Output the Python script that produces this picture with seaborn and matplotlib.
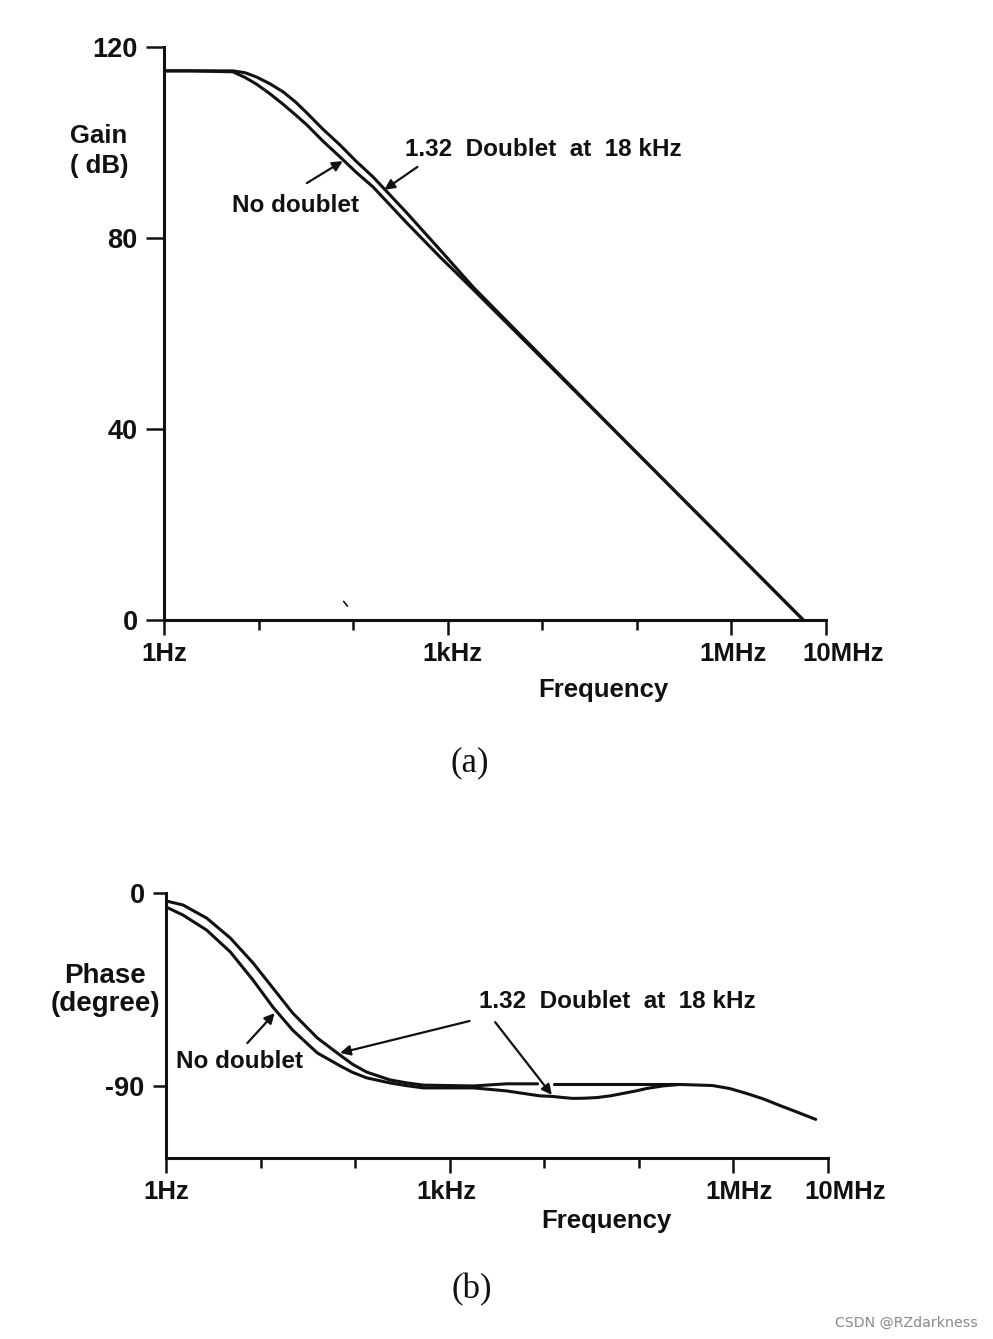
import numpy as np
import pandas as pd
import seaborn as sns
import matplotlib.pyplot as plt
from matplotlib.transforms import ScaledTranslation

# gain plot, x values are decades above 1 Hz
gain_log_f = [0, 0.3, 0.73, 0.86, 0.98, 1.12, 1.26, 1.39, 1.51, 1.68, 1.86, 2.03, 2.21,
              2.57, 2.92, 3.27, 5.0, 6.76]
gain_doublet = [115, 115, 115, 114.6, 113.7, 112.3, 110.6, 108.5, 106.2, 102.8, 99.5, 96.1, 92.8,
                85.2, 77.5, 69.7, 35.0, 0]
gain_no_doublet = [115, 115, 114.8, 113.6, 112.2, 110.2, 108.0, 105.8, 103.7, 100.3, 97.0, 93.8, 90.7,
                   83.1, 76.0, 69.2, 35.0, 0]

# phase plot
phase_log_f = [0, 0.18, 0.43, 0.68, 0.92, 1.13, 1.34, 1.6, 1.84, 1.97, 2.12, 2.37, 2.55, 2.72, 3.25,
               3.6, 3.95, 4.09, 4.2, 4.3, 4.43, 4.56, 4.7, 4.83, 4.96, 5.08, 5.25, 5.43, 5.78,
               5.96, 6.14, 6.32, 6.49, 6.68, 6.87]
phase_no_doublet = [-6.5, -10.3, -17.3, -27.5, -40.6, -53.2, -64, -74.6, -80.6, -83.6, -86.2, -88.6,
                    -89.9, -90.9, -90.9, -92.3, -94.6, -94.9, -95.4, -95.8, -95.7, -95.4, -94.6,
                    -93.5, -92.4, -91.2, -90, -89.3, -89.8, -91.2, -93.5, -96.1, -99.1, -102.3, -105.6]
phase_doublet_a_f = [0, 0.18, 0.43, 0.68, 0.92, 1.13, 1.34, 1.6, 1.84, 1.97, 2.12, 2.37, 2.55, 2.72,
                     3.25, 3.6, 3.93]
phase_doublet_a = [-3.7, -5.6, -11.7, -21, -32.6, -44.3, -56, -67.6, -75.6, -79.8, -83.5, -87.2,
                   -88.6, -89.6, -90, -89, -89]
phase_doublet_b_f = [4.1, 4.56, 5.08, 5.43]
phase_doublet_b = [-89.3, -89.3, -89.3, -89.3]

x_ticks = [1, 10, 100, 1e3, 1e4, 1e5, 1e6, 1e7]
x_labels = ["1Hz", "", "", "1kHz", "", "", "1MHz", "10MHz"]
gain_ticks = [0, 40, 80, 120]
phase_ticks = [-90, 0]
phase_tick_labels = ["-90", "0"]

W, H = 993, 1339
FONT = ["Liberation Sans", "DejaVu Sans"]
INK = "#111111"

sns.set_theme(style="ticks")
plt.rcParams["font.family"] = FONT
plt.rcParams["font.weight"] = "bold"

fig = plt.figure(figsize=(W / 100, H / 100), dpi=100, facecolor="white")
ax1 = fig.add_axes([164 / W, 1 - 620 / H, 662 / W, 573 / H])
ax2 = fig.add_axes([166 / W, 1 - 1158 / H, 662 / W, 265 / H])


def curve(ax, log_f, vals):
    df = pd.DataFrame({"f": 10 ** np.array(log_f, dtype=float), "v": vals})
    sns.lineplot(data=df, x="f", y="v", ax=ax, color=INK, lw=2.2, estimator=None, errorbar=None)


curve(ax1, gain_log_f, gain_doublet)
curve(ax1, gain_log_f, gain_no_doublet)
curve(ax2, phase_log_f, phase_no_doublet)
curve(ax2, phase_doublet_a_f, phase_doublet_a)
curve(ax2, phase_doublet_b_f, phase_doublet_b)


def arrow(ax, tip, tail):
    ax.annotate("", xy=(10 ** tip[0], tip[1]), xytext=(10 ** tail[0], tail[1]),
                arrowprops=dict(arrowstyle="-|>", color=INK, lw=1.6, mutation_scale=15, shrinkA=0, shrinkB=0))


arrow(ax1, (1.89, 96.1), (1.51, 91.5))
arrow(ax1, (2.33, 90.1), (2.68, 94.9))
arrow(ax2, (1.15, -56), (0.86, -70))
arrow(ax2, (1.84, -74.6), (3.21, -59.7))
arrow(ax2, (4.08, -94.2), (3.48, -60.2))

# the little speck under the top curve
ax1.plot([10 ** 1.9, 10 ** 1.94], [3.9, 2.9], color=INK, lw=1.2)

for ax, ylim, yt, ylen in [(ax1, (0, 120), gain_ticks, 13), (ax2, (-123.6, 0), phase_ticks, 9.4)]:
    ax.set_xscale("log")
    ax.set_xlim(1, 1e7)
    ax.set_ylim(*ylim)
    ax.set_xticks(x_ticks)
    ax.set_xticklabels(x_labels)
    ax.minorticks_off()
    ax.set_yticks(yt)
    ax.set_xlabel("")
    ax.set_ylabel("")
    ax.tick_params(axis="x", length=10.8, width=1.8, pad=5, labelsize=18.5, color=INK, labelcolor=INK)
    ax.tick_params(axis="y", length=ylen, width=1.8, pad=6, labelsize=19.5, color=INK, labelcolor=INK)
    sns.despine(ax=ax)
    ax.spines["left"].set_linewidth(2.2)
    ax.spines["bottom"].set_linewidth(2.2)
    ax.spines["left"].set_color(INK)
    ax.spines["bottom"].set_color(INK)
    ax.patch.set_alpha(0)
    ticks = ax.xaxis.get_major_ticks()
    for t, lab in zip(ticks, x_labels):
        if lab == "":
            t.tick1line.set_markersize(7)
    ticks[-1].label1.set_transform(ticks[-1].label1.get_transform() + ScaledTranslation(17 / 100, 0, fig.dpi_scale_trans))

ax2.set_yticklabels(phase_tick_labels)
ticks1 = ax1.xaxis.get_major_ticks()
ticks2 = ax2.xaxis.get_major_ticks()
ticks1[3].label1.set_transform(ticks1[3].label1.get_transform() + ScaledTranslation(5 / 100, 0, fig.dpi_scale_trans))
ticks1[6].label1.set_transform(ticks1[6].label1.get_transform() + ScaledTranslation(2 / 100, 0, fig.dpi_scale_trans))
ticks2[3].label1.set_transform(ticks2[3].label1.get_transform() + ScaledTranslation(-3 / 100, 0, fig.dpi_scale_trans))
ticks2[6].label1.set_transform(ticks2[6].label1.get_transform() + ScaledTranslation(6 / 100, 0, fig.dpi_scale_trans))


def put(x, y, s, size=17.5, **kw):
    kw.setdefault("ha", "center")
    fig.text(x / W, 1 - y / H, s, fontsize=size, va="center", color=INK, **kw)


put(99, 151, "Gain\n( dB)", size=18.5, linespacing=1.3)
put(296, 206, "No doublet")
put(543, 149, "1.32  Doublet  at  18 kHz")
put(603, 690, "Frequency", size=18.5)
put(105, 990, "Phase\n(degree)", size=20, linespacing=1.1)
put(240, 1061, "No doublet")
put(617, 1002, "1.32  Doublet  at  18 kHz")
put(606, 1221, "Frequency", size=18.5)

fig.text(470 / W, 1 - 763 / H, "(a)", fontsize=25, family="Liberation Serif", weight="normal",
         ha="center", va="center", color=INK)
fig.text(472 / W, 1 - 1290 / H, "(b)", fontsize=25, family="Liberation Serif", weight="normal",
         ha="center", va="center", color=INK)
fig.text(906 / W, 1 - 1323 / H, "CSDN @RZdarkness", fontsize=10.2, family="DejaVu Sans", weight="normal",
         ha="center", va="center", color="#8a8a8a")

fig.savefig("out.png", dpi=100)
